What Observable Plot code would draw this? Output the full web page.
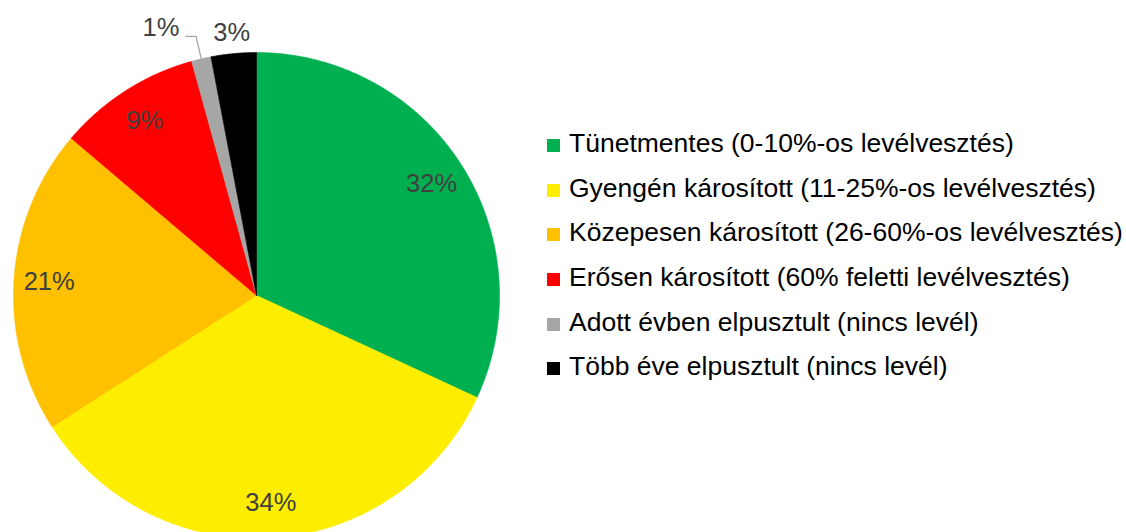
<!DOCTYPE html>
<html>
<head>
<meta charset="utf-8">
<script src="https://cdn.jsdelivr.net/npm/d3@7"></script>
<script src="https://cdn.jsdelivr.net/npm/@observablehq/plot@0.6"></script>
<style>
  html, body { margin: 0; padding: 0; background: #fff; overflow: hidden; }
  #wrap { position: relative; width: 1126px; height: 532px; overflow: hidden; font-family: Arial, "Liberation Sans", sans-serif; }
  #legend { position: absolute; left: 547px; top: 0; }
  .row { position: absolute; left: 0; display: flex; align-items: center; white-space: nowrap; font-size: 26.5px; color: #000; }
  .sw { width: 13px; height: 13px; margin-right: 9px; position: relative; top: 2px; flex: none; }
</style>
</head>
<body>
<div id="wrap"><div id="chart"></div><div id="legend"></div></div>
<script>
const categories = [
  "Tünetmentes (0-10%-os levélvesztés)",
  "Gyengén károsított (11-25%-os levélvesztés)",
  "Közepesen károsított (26-60%-os levélvesztés)",
  "Erősen károsított (60% feletti levélvesztés)",
  "Adott évben elpusztult (nincs levél)",
  "Több éve elpusztult (nincs levél)"
];
const values = [31.9, 34.0, 20.3, 9.5, 1.3, 3.0];
const labels = ["32%", "34%", "21%", "9%", "1%", "3%"];
const colors = ["#00B050", "#FDEE00", "#FFC000", "#FF0000", "#A6A6A6", "#000000"];

// layout
const cx = 256, cy = 295, R = 243;
const W = 1126, H = 532;
const labelR = 0.855;     // inside labels
const outsideR = 1.085;   // outside labels for small slices

const arcs = d3.pie().sort(null).value(d => d)(values);
const polar = (a, k) => ({x: k * Math.sin(a), y: k * Math.cos(a)});

// slice polygons
const poly = [];
arcs.forEach((a, i) => {
  const key = categories[i];
  poly.push({key, ...polar(0, 0)});
  const n = Math.max(2, Math.ceil((a.endAngle - a.startAngle) / 0.005));
  for (let j = 0; j <= n; j++) {
    const t = a.startAngle + (a.endAngle - a.startAngle) * j / n;
    poly.push({key, ...polar(t, 1)});
  }
  poly.push({key, ...polar(0, 0)});
});

// labels
const lab = [];
const leader = [];
arcs.forEach((a, i) => {
  const mid = (a.startAngle + a.endAngle) / 2;
  if (values[i] >= 5) {
    lab.push({text: labels[i], ...polar(mid, labelR)});
  } else if (i === 4) {
    // moved label with leader line
    const p0 = polar(mid, 1.0);
    const p1 = polar(mid, 1.095);
    const p2 = {x: p1.x - 10 / R, y: p1.y};
    leader.push(p0, p1, p2);
    lab.push({text: labels[i], x: p2.x - 25 / R, y: p1.y + 8.7 / R});
  } else {
    lab.push({text: labels[i], ...polar(mid, outsideR)});
  }
});

const chart = Plot.plot({
  width: W,
  height: H,
  margin: 0,
  x: {domain: [-1, 1], range: [cx - R, cx + R], axis: null},
  y: {domain: [-1, 1], range: [cy + R, cy - R], axis: null},
  color: {domain: categories, range: colors},
  style: {fontFamily: "Arial, 'Liberation Sans', sans-serif", background: "#fff", overflow: "hidden"},
  marks: [
    Plot.line(poly, {x: "x", y: "y", z: "key", fill: "key", stroke: "key", strokeWidth: 0.6, curve: "linear"}),
    Plot.line(leader, {x: "x", y: "y", stroke: "#A6A6A6", strokeWidth: 1.3, curve: "linear"}),
    Plot.text(lab, {x: "x", y: "y", text: "text", fill: "#404040", fontSize: 25.5, textAnchor: "middle", lineAnchor: "middle"})
  ]
});
document.getElementById("chart").appendChild(chart);

// legend
const legend = document.getElementById("legend");
const rowTop = 121.2, rowGap = 44.64;
categories.forEach((c, i) => {
  const row = document.createElement("div");
  row.className = "row";
  row.style.top = (rowTop + i * rowGap) + "px";
  row.style.height = rowGap + "px";
  const sw = document.createElement("span");
  sw.className = "sw";
  sw.style.background = colors[i];
  const tx = document.createElement("span");
  tx.textContent = c;
  row.appendChild(sw);
  row.appendChild(tx);
  legend.appendChild(row);
});
</script>
</body>
</html>
